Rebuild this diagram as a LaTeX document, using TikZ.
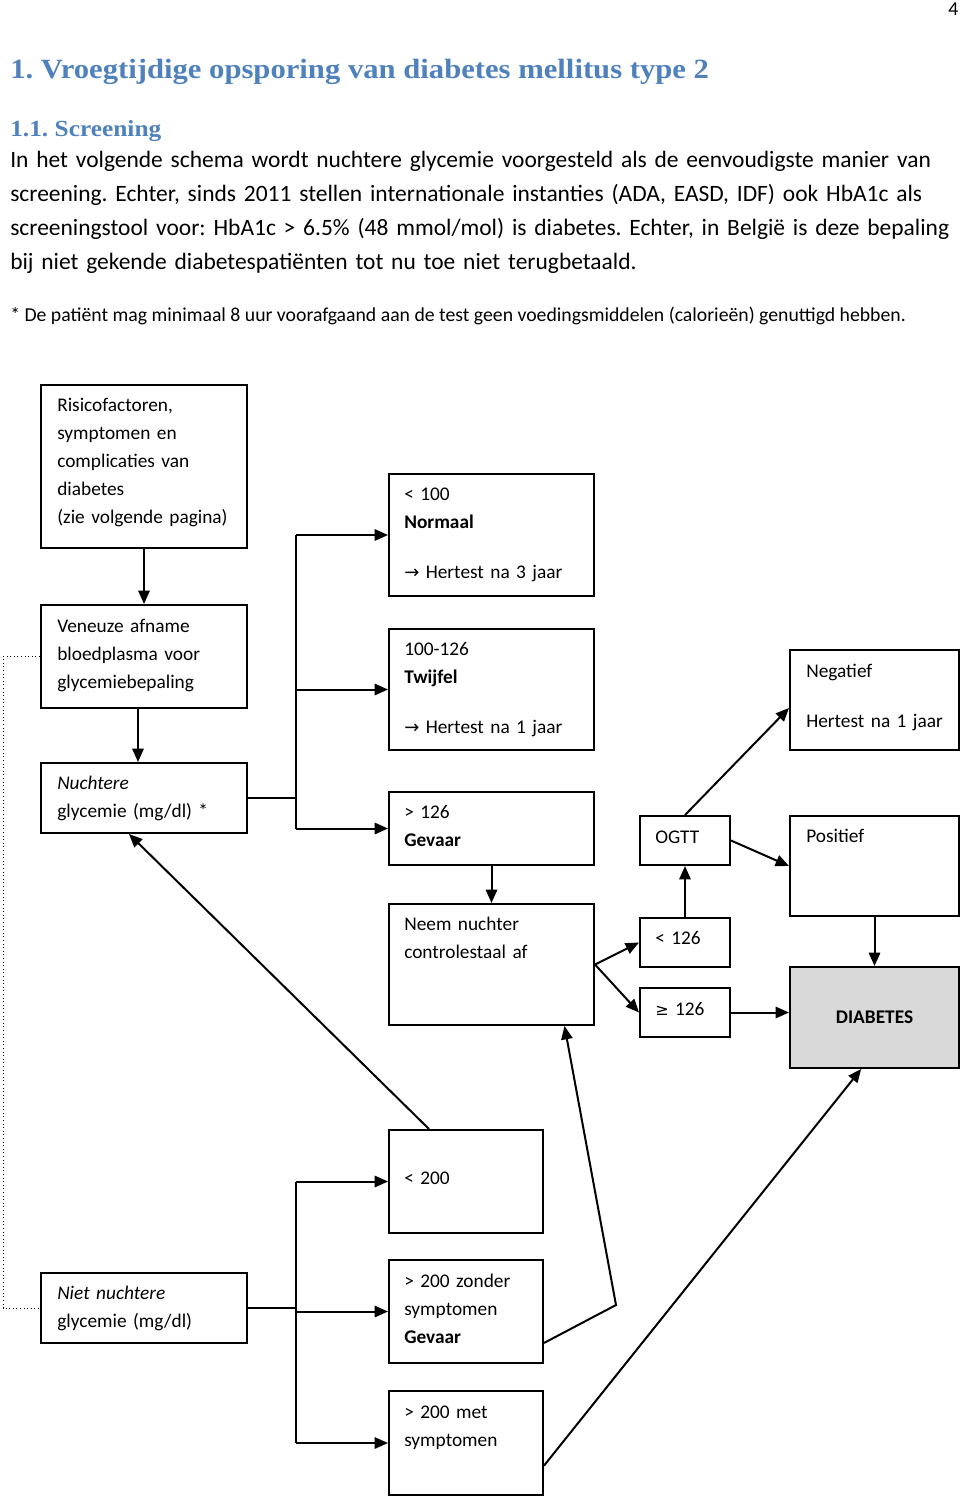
\documentclass[tikz,border=0pt]{standalone}
\usepackage{fontspec}
\setmainfont{Carlito}
\newfontfamily\headfont[FakeStretch=1.1]{Liberation Serif}
\newfontfamily\symfont{DejaVu Sans}
\usepackage{tikz}
\usetikzlibrary{arrows.meta}
\usetikzlibrary{calc}
\definecolor{headblue}{RGB}{79,129,189}
\definecolor{diabgray}{RGB}{217,217,217}
\newcommand\harr{{\symfont\fontsize{13.5}{21}\selectfont →}}
\frenchspacing

\begin{document}
\begin{tikzpicture}[x=0.75pt,y=-0.75pt,
  box/.style={draw,line width=1.5pt,anchor=north west,inner sep=0pt},
  txt/.style={anchor=base west,align=left,inner sep=0pt,text width=150pt,
    font=\fontsize{14.5}{21}\selectfont},
  arr/.style={line width=1.5pt,-{Triangle[length=10pt,width=8.5pt]}},
  conn/.style={line width=1.5pt}]
\useasboundingbox (0,0) rectangle (960,1499);

% page text
\node[anchor=base west,inner sep=0pt,font=\fontsize{14.8}{18}\selectfont] (pnum) at (948,16) {4};
\node[anchor=base west,inner sep=0pt,text=headblue,font=\headfont\bfseries\fontsize{20.9}{24}\selectfont] (h1) at (10,78) {1. Vroegtijdige opsporing van diabetes mellitus type 2};
\node[anchor=base west,inner sep=0pt,text=headblue,font=\headfont\bfseries\fontsize{17.3}{22}\selectfont] (h2) at (10,136) {1.1. Screening};
\node[anchor=base west,align=left,inner sep=0pt,text width=715pt,font=\fontsize{17.6}{25.5}\selectfont] (intro) at (10,167) {In het volgende schema wordt nuchtere glycemie voorgesteld als de eenvoudigste manier van\\
screening. Echter, sinds 2011 stellen internationale instanties (ADA, EASD, IDF) ook HbA1c als\\
screeningstool voor: HbA1c > 6.5\% (48 mmol/mol) is diabetes. Echter, in België is deze bepaling\\
bij niet gekende diabetespatiënten tot nu toe niet terugbetaald.};
\node[anchor=base west,inner sep=0pt,font=\fontsize{14.8}{18}\selectfont] (note) at (10,321) {* De patiënt mag minimaal 8 uur voorafgaand aan de test geen voedingsmiddelen (calorieën) genuttigd hebben.};

% boxes
\node[box,minimum width=154.5pt,minimum height=122.25pt] (risk) at (40,384) {};
\node[box,minimum width=154.5pt,minimum height=77.25pt] (ven) at (40,604) {};
\node[box,minimum width=154.5pt,minimum height=52.5pt] (nucht) at (40,762) {};
\node[box,minimum width=154.5pt,minimum height=52.5pt] (niet) at (40,1272) {};
\node[box,minimum width=153.75pt,minimum height=91.5pt] (normaal) at (388,473) {};
\node[box,minimum width=153.75pt,minimum height=90.75pt] (twijfel) at (388,628) {};
\node[box,minimum width=153.75pt,minimum height=54.75pt] (gevaar) at (388,791) {};
\node[box,minimum width=153.75pt,minimum height=90.75pt] (neem) at (388,903) {};
\node[box,minimum width=67.5pt,minimum height=36.75pt] (ogtt) at (639,815) {};
\node[box,minimum width=67.5pt,minimum height=36.75pt] (lt126) at (639,917) {};
\node[box,minimum width=67.5pt,minimum height=36.75pt] (ge126) at (639,987) {};
\node[box,minimum width=126.75pt,minimum height=75pt] (negatief) at (789,649) {};
\node[box,minimum width=126.75pt,minimum height=75pt] (positief) at (789,815) {};
\node[box,fill=diabgray,minimum width=126.75pt,minimum height=75.75pt,font=\bfseries\fontsize{14.5}{18}\selectfont] (diabetes) at (789,966) {DIABETES};
\node[box,minimum width=115.5pt,minimum height=77.25pt] (lt200) at (388,1129) {};
\node[box,minimum width=115.5pt,minimum height=77.25pt] (zonder) at (388,1259) {};
\node[box,minimum width=115.5pt,minimum height=78pt] (met) at (388,1390) {};

% box texts
\node[txt] (risk-t) at (57,411) {Risicofactoren,\\symptomen en\\complicaties van\\diabetes\\(zie volgende pagina)};
\node[txt] (ven-t) at (57,632) {Veneuze afname\\bloedplasma voor\\glycemiebepaling};
\node[txt] (nucht-t) at (57,789) {\textit{Nuchtere}\\glycemie (mg/dl) *};
\node[txt] (niet-t) at (57,1299) {\textit{Niet nuchtere}\\glycemie (mg/dl)};
\node[txt] (normaal-t) at (404,500) {< 100\\\textbf{Normaal}\\[16.5pt]\harr\ Hertest na 3 jaar};
\node[txt] (twijfel-t) at (404,655) {100-126\\\textbf{Twijfel}\\[16.5pt]\harr\ Hertest na 1 jaar};
\node[txt] (gevaar-t) at (404,818) {> 126\\\textbf{Gevaar}};
\node[txt] (neem-t) at (404,930) {Neem nuchter\\controlestaal af};
\node[txt] (ogtt-t) at (655,843) {OGTT};
\node[txt] (lt126-t) at (655,944) {< 126};
\node[txt] (ge126-t) at (655,1015) {{\symfont\fontsize{12}{21}\selectfont ≥} 126};
\node[txt] (negatief-t) at (806,677) {Negatief\\[16.5pt]Hertest na 1 jaar};
\node[txt] (positief-t) at (806,842) {Positief};
\node[txt] (lt200-t) at (404,1184) {< 200};
\node[txt] (zonder-t) at (404,1287) {> 200 zonder\\symptomen\\\textbf{Gevaar}};
\node[txt] (met-t) at (404,1418) {> 200 met\\symptomen};

% connectors
\coordinate (bus1) at (296,0);
\coordinate (bus2) at (296,0);
\coordinate (dl) at (3,0);
\coordinate (kink) at (616,1305);
\draw[arr] (risk.south) -- (ven.north);
\draw[arr] ([xshift=-4.5pt]ven.south) -- ([xshift=-4.5pt]nucht.north);
\draw[conn] (nucht.east) -- (nucht.east -| bus1);
\draw[conn] (bus1 |- normaal.west) -- (bus1 |- gevaar.west);
\foreach \n in {normaal,twijfel,gevaar}
  \draw[arr] (bus1 |- \n.west) -- (\n.west);
\draw[arr] (gevaar.south) -- (neem.north);
\draw[arr] (neem.east) -- (lt126.west);
\draw[arr] (neem.east) -- (ge126.west);
\draw[arr] (lt126.north) -- (ogtt.south);
\draw[arr] (ogtt.north) -- ([yshift=-6pt]negatief.west);
\draw[arr] (ogtt.east) -- (positief.west);
\draw[arr] (positief.south) -- (diabetes.north);
\draw[arr] (ge126.east) -- (ge126.east -| diabetes.west);
\draw[arr] ([xshift=-27.75pt]lt200.north) -- ([xshift=-11.25pt]nucht.south);
\draw[conn] (niet.east) -- (niet.east -| bus2);
\draw[conn] (bus2 |- lt200.west) -- (bus2 |- met.west);
\foreach \n in {lt200,zonder,met}
  \draw[arr] (bus2 |- \n.west) -- (\n.west);
\draw[arr] ([yshift=-23.6pt]zonder.east) -- (kink) -- ([xshift=54.75pt]neem.south);
\draw[arr] ([yshift=-17pt]met.east) -- ([xshift=-10pt]diabetes.south);
\draw[dotted,line width=0.7pt] (ven.west) -- (ven.west -| dl) -- (dl |- niet.west) -- (niet.west);
\end{tikzpicture}
\end{document}
